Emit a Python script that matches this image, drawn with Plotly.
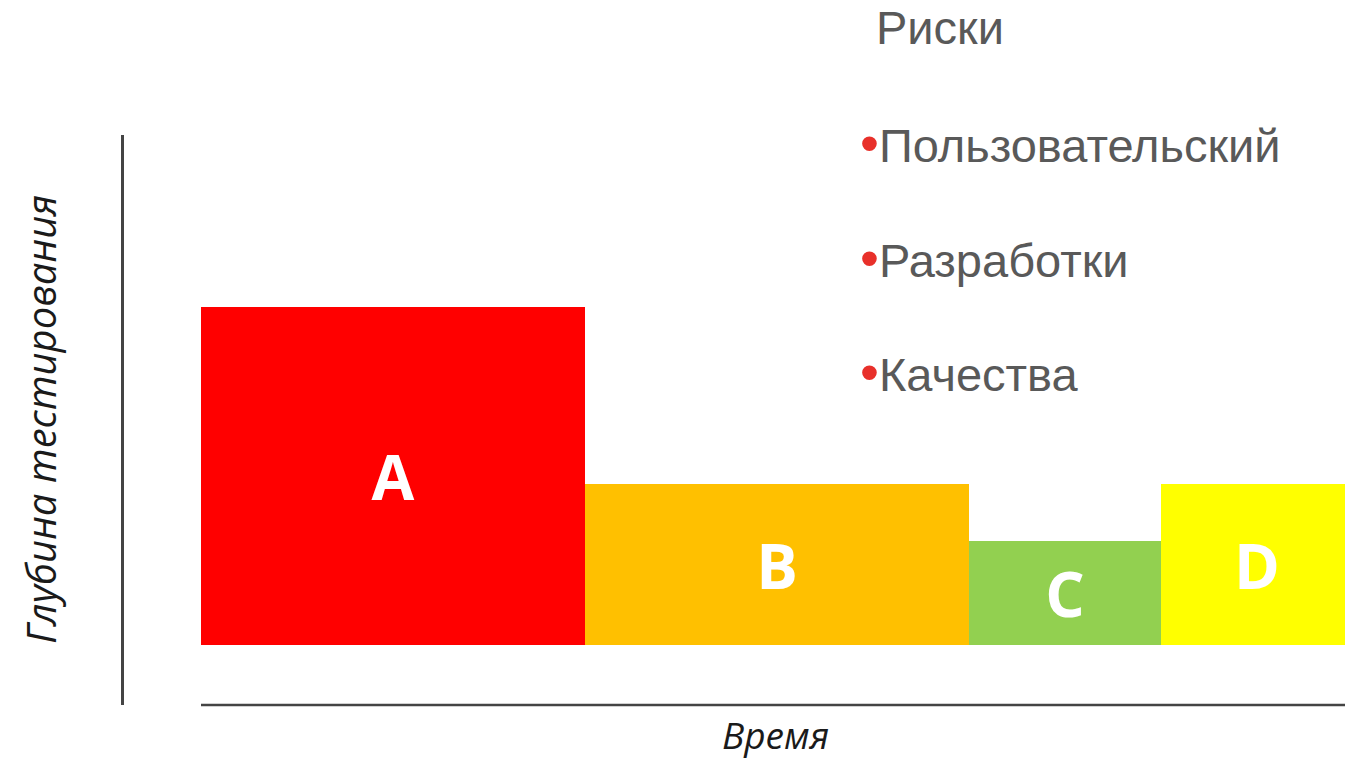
import plotly.graph_objects as go

# Data
categories = ["A", "B", "C", "D"]
durations = [2, 2, 1, 1]          # relative time spans
depths = [6.5, 3.1, 2.0, 3.1]     # testing depth
colors = ["#FF0000", "#FFC000", "#92D050", "#FFFF00"]
risk_title = "Риски"
risk_items = ["Пользовательский", "Разработки", "Качества"]
x_title = "Время"
y_title = "Глубина тестирования"

# positions of bars from durations
starts = []
acc = 0
for d in durations:
    starts.append(acc)
    acc += d
centers = [s + d / 2 for s, d in zip(starts, durations)]

W, H = 1345, 759
L, R, T, B = 124, 0, 135, 54
pw, ph = W - L - R, H - T - B

def px(xp):
    return (xp - L) / pw

def py(yp):
    return (H - B - yp) / ph

fig = go.Figure()
fig.add_trace(go.Bar(
    x=centers, y=depths, width=durations,
    marker=dict(color=colors, line=dict(width=0)),
    text=categories, textposition="inside", insidetextanchor="middle",
    textangle=0,
    textfont=dict(family="Open Sans", size=62, color="white", weight="bold"),
    hoverinfo="skip", showlegend=False,
))

fig.update_xaxes(range=[-0.401, 5.958], visible=False, fixedrange=True)
fig.update_yaxes(range=[-1.154, 9.808], showgrid=False, zeroline=False,
                 showticklabels=False, ticks="", showline=True,
                 linecolor="#444444", linewidth=2.5)

# horizontal time axis line starting at the first bar
fig.add_shape(type="line", xref="x", yref="paper", x0=0, x1=6.5, y0=0, y1=0,
              line=dict(color="#444444", width=2.5))

ann = []
ann.append(dict(text=x_title, xref="paper", yref="paper", x=px(775), y=py(734),
                showarrow=False, xanchor="center", yanchor="middle",
                font=dict(family="Open Sans", size=37, color="#1a1a1a", style="italic")))
ann.append(dict(text=y_title, xref="paper", yref="paper", x=px(40), y=py(420),
                showarrow=False, xanchor="center", yanchor="middle", textangle=-90,
                font=dict(family="Open Sans", size=40, color="#1a1a1a", style="italic")))
ann.append(dict(text=risk_title, xref="paper", yref="paper", x=px(874), y=py(27),
                showarrow=False, xanchor="left", yanchor="middle",
                font=dict(family="Liberation Sans", size=47, color="#595959")))
for i, item in enumerate(risk_items):
    ann.append(dict(text="<span style='color:#E8302A;font-size:54px'>•</span>" + item,
                    xref="paper", yref="paper", x=px(858), y=py(143 + 114.5 * i),
                    showarrow=False, xanchor="left", yanchor="middle",
                    font=dict(family="Liberation Sans", size=47, color="#595959")))

fig.update_layout(
    width=W, height=H,
    margin=dict(l=L, r=R, t=T, b=B, pad=0),
    paper_bgcolor="white", plot_bgcolor="white",
    bargap=0, annotations=ann,
)

fig.write_html("out.html", config={"displayModeBar": False},
               post_script="document.body.style.margin='0px';document.body.style.overflow='hidden';")
